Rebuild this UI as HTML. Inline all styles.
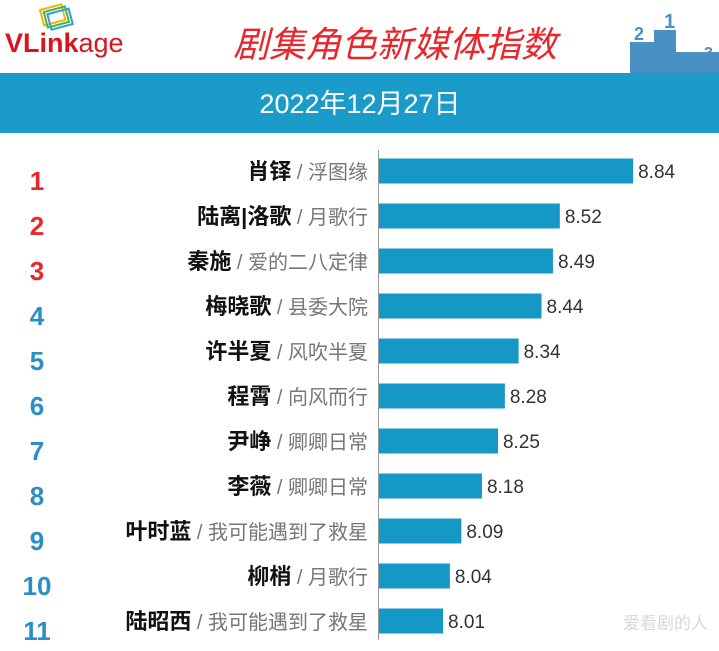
<!DOCTYPE html>
<html><head><meta charset="utf-8">
<style>
body{margin:0;width:719px;height:646px;background:#fff;overflow:hidden;font-family:"Liberation Sans","Noto Sans CJK SC",sans-serif;}
svg text{font-family:"Liberation Sans","Noto Sans CJK SC",sans-serif;}
</style></head><body>
<svg id="chart" width="719" height="646" xmlns="http://www.w3.org/2000/svg">
  <g>
    <g transform="translate(40,10) rotate(-15)">
      <rect x="0" y="0" width="22" height="16" fill="none" stroke="#f4b400" stroke-width="2"/>
      <rect x="3" y="3" width="22" height="16" fill="none" stroke="#4caf50" stroke-width="2"/>
      <rect x="6" y="6" width="22" height="16" fill="none" stroke="#29a3d6" stroke-width="2"/>
    </g>
    <text x="5" y="52" font-size="27" font-weight="bold" fill="#d9141b">VLink<tspan font-weight="normal">age</tspan></text>
  </g>
  <text x="395" y="57" font-size="36" font-style="italic" fill="#e8262c" text-anchor="middle">剧集角色新媒体指数</text>
  <g fill="#4a90c4">
    <rect x="630" y="42" width="24" height="33"/>
    <rect x="654" y="30" width="22" height="45"/>
    <rect x="676" y="52" width="43" height="23"/>
    <text x="634" y="40" font-size="18" font-weight="bold">2</text>
    <text x="664" y="28" font-size="20" font-weight="bold">1</text>
    <text x="704" y="58" font-size="16" font-weight="bold">3</text>
  </g>
  <rect x="0" y="73" width="719" height="60" fill="#1a9bc9"/>
  <text x="360" y="113" font-size="27" fill="#fff" text-anchor="middle">2022年12月27日</text>
  <line x1="378.5" y1="150" x2="378.5" y2="640" stroke="#999" stroke-width="1"/>
  <g id="rows"></g>
  <text x="708" y="629" font-size="17" fill="#d8d8d8" text-anchor="end">爱看剧的人</text>
</svg>
<script>
const names = ["肖铎","陆离|洛歌","秦施","梅晓歌","许半夏","程霄","尹峥","李薇","叶时蓝","柳梢","陆昭西"];
const shows = ["浮图缘","月歌行","爱的二八定律","县委大院","风吹半夏","向风而行","卿卿日常","卿卿日常","我可能遇到了救星","月歌行","我可能遇到了救星"];
const values = [8.84,8.52,8.49,8.44,8.34,8.28,8.25,8.18,8.09,8.04,8.01];
const ranks = ["1","2","3","4","5","6","7","8","9","10","11"];

const x0 = 378, xMin = 7.726, pxPer = 229;
const xScale = v => x0 + (v - xMin) * pxPer;
const yScale = i => 171 + i * 45;
const NS = "http://www.w3.org/2000/svg";
const g = document.getElementById("rows");
function mk(tag, attrs, txt){const e=document.createElementNS(NS,tag);for(const k in attrs)e.setAttribute(k,attrs[k]);if(txt!==undefined)e.textContent=txt;g.appendChild(e);return e;}
values.forEach((v,i)=>{
  const cy = yScale(i);
  const bar = mk("rect",{x:x0+1,y:cy-12.5,width:xScale(v)-x0-1,height:25,fill:"#1598c6"});
  
  
  const val = mk("text",{x:xScale(v)+5,y:cy+7,"font-size":19,fill:"#333"},v.toFixed(2));
  
  
  const rk = mk("text",{x:37,y:cy+19,"font-size":26,"font-weight":"bold","text-anchor":"middle",fill:i<3?"#e8262c":"#2a8fc4"},ranks[i]);
  
  
  const lab = mk("text",{x:368,y:cy+8,"text-anchor":"end"});
  
  
  const t1=document.createElementNS(NS,"tspan");t1.setAttribute("font-size","22");t1.setAttribute("font-weight","bold");t1.setAttribute("fill","#111");t1.textContent=names[i];lab.appendChild(t1);
  const t2=document.createElementNS(NS,"tspan");t2.setAttribute("font-size","20");t2.setAttribute("fill","#777");t2.textContent=" / "+shows[i];lab.appendChild(t2);
});
</script>
</body></html>
